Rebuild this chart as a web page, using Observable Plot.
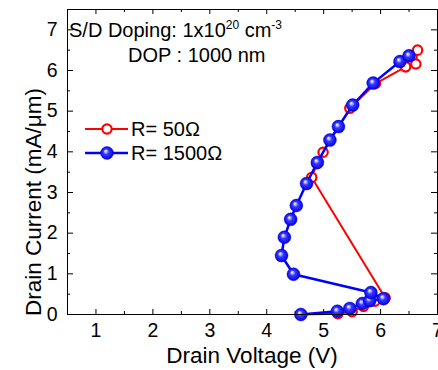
<!DOCTYPE html>
<html>
<head>
<meta charset="utf-8">
<script src="https://cdn.jsdelivr.net/npm/d3@7"></script>
<script src="https://cdn.jsdelivr.net/npm/@observablehq/plot@0.6"></script>
<style>
  html, body { margin: 0; padding: 0; background: #fff; }
  #chart svg { display: block; }
</style>
</head>
<body>
<div id="chart"></div>
<script>
// R = 50 Ω series
const voltage50 = [4.60, 5.25, 5.50, 5.70, 5.90, 6.08, 4.79, 4.88, 4.99, 5.46, 5.91, 6.44, 6.62, 6.65];
const current50 = [0.00, 0.02, 0.07, 0.20, 0.33, 0.41, 3.37, 3.71, 3.99, 5.07, 5.68, 6.09, 6.16, 6.50];
// R = 1500 Ω series
const voltage1500 = [4.60, 5.24, 5.46, 5.68, 5.81, 6.05, 5.83, 4.47, 4.26, 4.31, 4.42, 4.52, 4.70, 4.89, 5.11, 5.26, 5.51, 5.87, 6.34, 6.50];
const current1500 = [0.00, 0.08, 0.15, 0.27, 0.34, 0.39, 0.54, 0.99, 1.45, 1.90, 2.34, 2.68, 3.22, 3.74, 4.29, 4.62, 5.15, 5.69, 6.22, 6.36];

const xTicks = [1, 2, 3, 4, 5, 6, 7];
const xMinor = [1.5, 2.5, 3.5, 4.5, 5.5, 6.5];
const yTicks = [0, 1, 2, 3, 4, 5, 6, 7];
const yMinor = [0.5, 1.5, 2.5, 3.5, 4.5, 5.5, 6.5];
const seriesLabels = ["R= 50Ω", "R= 1500Ω"];
const xLabel = "Drain Voltage (V)";
const yLabel = "Drain Current (mA/μm)";

const d50 = voltage50.map((v, i) => ({v, c: current50[i]}));
const d1500 = voltage1500.map((v, i) => ({v, c: current1500[i]}));

const W = 438, H = 370;
const mL = 67, mR = 1, mT = 9, mB = 56;
const fw = W - mL - mR, fh = H - mT - mB;
const font = "Liberation Sans, Arial, sans-serif";

const plot = Plot.plot({
  width: W, height: H,
  marginLeft: mL, marginRight: mR, marginTop: mT, marginBottom: mB,
  style: {fontFamily: font, background: "white", color: "black"},
  x: {domain: [0.5, 7]},
  y: {domain: [0, 7.5]},
  marks: [
    Plot.axisX({ticks: xTicks, tickSize: 0, tickPadding: 9, fontSize: 19.5, label: null, tickFormat: d => d}),
    Plot.axisY({ticks: yTicks, tickSize: 0, tickPadding: 10, fontSize: 19.5, label: null, tickFormat: d => d}),
    // inward ticks on all sides
    Plot.tickX(xTicks, {x: d => d, insetTop: fh - 5, stroke: "black"}),
    Plot.tickX(xTicks, {x: d => d, insetBottom: fh - 5, stroke: "black"}),
    Plot.tickX(xMinor, {x: d => d, insetTop: fh - 3, stroke: "black"}),
    Plot.tickX(xMinor, {x: d => d, insetBottom: fh - 3, stroke: "black"}),
    Plot.tickY(yTicks, {y: d => d, insetRight: fw - 6, stroke: "black"}),
    Plot.tickY(yTicks, {y: d => d, insetLeft: fw - 6, stroke: "black"}),
    Plot.tickY(yMinor, {y: d => d, insetRight: fw - 3, stroke: "black"}),
    Plot.tickY(yMinor, {y: d => d, insetLeft: fw - 3, stroke: "black"}),
    Plot.line(d50, {x: "v", y: "c", stroke: "#ff0000", strokeWidth: 2}),
    Plot.dot(d50, {x: "v", y: "c", r: 4.7, stroke: "#ff0000", strokeWidth: 2.2, fill: "white"}),
    Plot.line(d1500, {x: "v", y: "c", stroke: "#0000ff", strokeWidth: 2.5}),
    Plot.dot(d1500, {x: "v", y: "c", r: 6.5, fill: "url(#ball)", stroke: "#0000d8", strokeWidth: 0.4}),
    Plot.frame({stroke: "black", strokeWidth: 1})
  ]
});

const svg = d3.select(plot);
const defs = svg.insert("defs", ":first-child");
const g = defs.append("radialGradient").attr("id", "ball")
  .attr("cx", "50%").attr("cy", "50%").attr("r", "50%")
  .attr("fx", "38%").attr("fy", "34%");
g.append("stop").attr("offset", "0%").attr("stop-color", "#ffffff");
g.append("stop").attr("offset", "16%").attr("stop-color", "#c4c4ff");
g.append("stop").attr("offset", "42%").attr("stop-color", "#3a3aff");
g.append("stop").attr("offset", "100%").attr("stop-color", "#0000e4");

// axis titles
svg.append("text").attr("x", mL + fw / 2).attr("y", 363).attr("text-anchor", "middle")
  .attr("font-family", font).attr("font-size", 22.5).attr("fill", "black").text(xLabel);
svg.append("text").attr("transform", "translate(41,202) rotate(-90)").attr("text-anchor", "middle")
  .attr("font-family", font).attr("font-size", 22.5).attr("fill", "black").text(yLabel);

// annotation
const a1 = svg.append("text").attr("x", 69).attr("y", 37).attr("text-anchor", "start")
  .attr("font-family", font).attr("font-size", 20).attr("fill", "black");
a1.append("tspan").text("S/D Doping: 1x10");
a1.append("tspan").attr("dy", -8).attr("font-size", 12).text("20");
a1.append("tspan").attr("dy", 8).text(" cm");
a1.append("tspan").attr("dy", -8).attr("font-size", 12).text("-3");
svg.append("text").attr("x", 128).attr("y", 62).attr("text-anchor", "start")
  .attr("font-family", font).attr("font-size", 20).attr("fill", "black").text("DOP : 1000 nm");

// legend
const leg = svg.append("g");
const ly = [129, 153];
leg.append("line").attr("x1", 85).attr("x2", 128).attr("y1", ly[0]).attr("y2", ly[0])
  .attr("stroke", "#ff0000").attr("stroke-width", 2);
leg.append("circle").attr("cx", 107).attr("cy", ly[0]).attr("r", 4.7)
  .attr("stroke", "#ff0000").attr("stroke-width", 2.2).attr("fill", "white");
leg.append("line").attr("x1", 85).attr("x2", 128).attr("y1", ly[1]).attr("y2", ly[1])
  .attr("stroke", "#0000ff").attr("stroke-width", 2.5);
leg.append("circle").attr("cx", 107).attr("cy", ly[1]).attr("r", 6.5)
  .attr("fill", "url(#ball)").attr("stroke", "#0000d8").attr("stroke-width", 0.4);
seriesLabels.forEach((s, i) => {
  leg.append("text").attr("x", 131).attr("y", ly[i] + 7).attr("text-anchor", "start")
    .attr("font-family", font).attr("font-size", 20).attr("fill", "black").text(s);
});

document.getElementById("chart").appendChild(plot);
</script>
</body>
</html>
